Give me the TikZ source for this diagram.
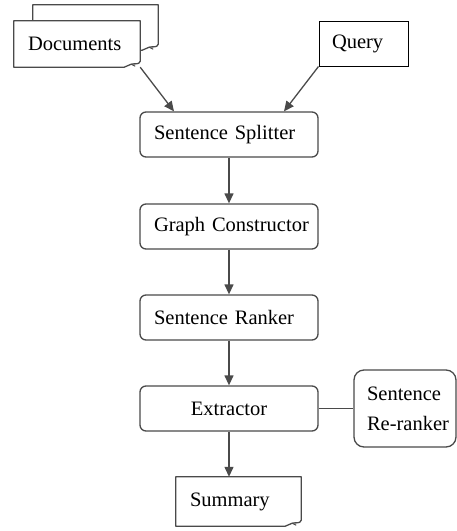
\documentclass[tikz,border=0pt]{standalone}
\usepackage{fontspec}
\setmainfont{Liberation Serif}
\usetikzlibrary{arrows.meta,positioning,backgrounds}

\begin{document}
\begin{tikzpicture}[x=1pt,y=-1pt,font=\fontsize{20.5}{30}\selectfont,
  procbox/.style={draw=boxgray,line width=1.3pt,rounded corners=6pt,minimum width=178pt,minimum height=45pt,inner xsep=14pt,text width=150pt,align=left},
  pagenode/.style={minimum height=46pt,inner xsep=14pt,inner ysep=0pt},
  pageline/.style={draw=boxgray,fill=white,line width=1.3pt,line join=round},
  flow/.style={draw=boxgray,line width=1.3pt,-{Triangle[length=10pt,width=9pt]}}]
\definecolor{boxgray}{HTML}{4A4A4A}
\useasboundingbox (0,0) rectangle (457,531);

% inputs
\node [pagenode,minimum width=125pt,minimum height=45pt] (docsback) at (95.5,27.5) {};
\node [pagenode,minimum width=126pt,text width=98pt] (docs) at (77,44) {Documents};
\node [draw=black,line width=1pt,minimum width=89pt,minimum height=45pt,inner xsep=13pt,text width=63pt,align=left] (query) at (363.5,43.5) {Query};

% pipeline
\foreach \nm/\txt/\ypos in {split/Sentence Splitter/134.5,graph/Graph Constructor/226.5,rank/Sentence Ranker/317.5}
  { \node [procbox] (\nm) at (229,\ypos) {\mbox{\txt}}; }
\node [procbox,align=center] (extract) at (229,408.5) {Extractor};
\node [procbox,minimum width=102pt,minimum height=77pt,text width=76pt,inner xsep=13pt,rounded corners=10pt] (rerank) at (405,408.5) {Sentence\\\mbox{Re-ranker}};
\node [pagenode,minimum width=125pt,minimum height=49pt,text width=97pt] (summary) at (238.5,501.5) {Summary};

% page outlines with curled corner
\begin{scope}[on background layer]
\foreach \pg in {docsback,docs,summary}
  { \draw [pageline] (\pg.north west) -- (\pg.north east) -- ([yshift=6pt]\pg.south east)
      .. controls ([xshift=-1pt,yshift=2pt]\pg.south east) and ([xshift=-6pt,yshift=4pt]\pg.south east) .. ([xshift=-9pt,yshift=3pt]\pg.south east)
      -- ([xshift=-16pt]\pg.south east) -- (\pg.south west) -- cycle;
    \draw [boxgray,line width=1pt] ([xshift=-9pt,yshift=3pt]\pg.south east) -- ([xshift=-5pt,yshift=1pt]\pg.south east); }
\end{scope}

% connectors
\draw [flow] (docs.south east) -- ([xshift=-55pt]split.north);
\draw [flow] (query.south west) -- ([xshift=55pt]split.north);
\draw [flow] (split) -- (graph);
\draw [flow] (graph) -- (rank);
\draw [flow] (rank) -- (extract);
\draw [flow] (extract.south) -- (extract.south |- summary.north);
\draw [boxgray,line width=1.3pt] (extract.east) -- (rerank.west);
\end{tikzpicture}
\end{document}
